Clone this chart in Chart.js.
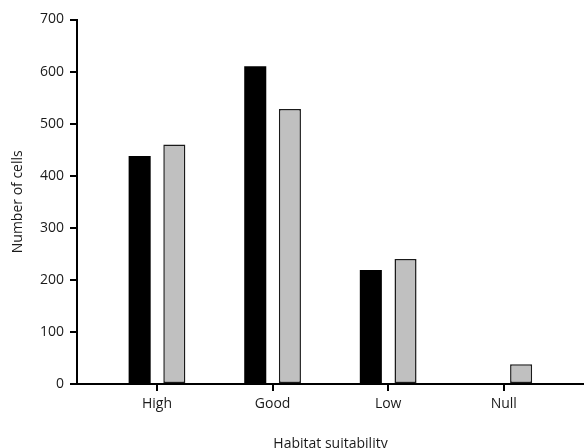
<!DOCTYPE html>
<html>
<head>
<meta charset="utf-8">
<script src="https://cdn.jsdelivr.net/npm/chart.js@4/dist/chart.umd.min.js"></script>
<style>
  html, body { margin: 0; padding: 0; background: #fff; }
  #wrap { width: 584px; height: 448px; }
</style>
</head>
<body>
<div id="wrap"><canvas id="myChart" width="584" height="448"></canvas></div>
<script>
// data
var categories = ["High", "Good", "Low", "Null"];
var blackValues = [438, 610, 219, 0];
var grayValues = [460, 528, 240, 38];
var yTickValues = [0, 100, 200, 300, 400, 500, 600, 700];

function toPoints(values) {
    var pts = [];
    for (var i = 0; i < values.length; i++) {
        pts.push({ x: i, y: values[i] });
    }
    return pts;
}

var font = { family: "'Open Sans', sans-serif", size: 14 };

var ctx = document.getElementById("myChart");
var mychart = new Chart(ctx, {
    type: 'bar',
    data: {
        datasets: [
            {
                data: toPoints(blackValues),
                backgroundColor: "#000000",
                borderWidth: 0,
                categoryPercentage: 0.6,
                barPercentage: 0.636
            },
            {
                data: toPoints(grayValues),
                backgroundColor: "#c0c0c0",
                borderColor: "#1a1a1a",
                borderWidth: 1.5,
                borderSkipped: false,
                categoryPercentage: 0.6,
                barPercentage: 0.636
            }
        ]
    },
    options: {
        responsive: false,
        animation: false,
        devicePixelRatio: 1,
        layout: { padding: { top: 19.5, right: 0, bottom: 0, left: 0 } },
        plugins: {
            legend: { display: false },
            tooltip: { enabled: false }
        },
        scales: {
            x: {
                type: 'linear',
                offset: false,
                min: -0.692,
                max: 3.694,
                afterBuildTicks: function(scale) {
                    scale.ticks = categories.map(function(c, i) { return { value: i }; });
                },
                afterFit: function(scale) { scale.height = 64; },
                grid: { display: true, offset: false, drawOnChartArea: false, drawTicks: true, tickLength: 7, color: "#000", lineWidth: 2, tickColor: "#000", tickWidth: 2 },
                border: { display: true, color: "#000", width: 2 },
                ticks: {
                    padding: 5,
                    color: "#1a1a1a",
                    font: font,
                    maxRotation: 0,
                    autoSkip: false,
                    callback: function(value) { return categories[value] || ""; }
                },
                title: {
                    display: true,
                    text: "Habitat suitability",
                    color: "#1a1a1a",
                    font: { family: font.family, size: 14, lineHeight: 1 },
                    padding: { top: 0, bottom: -3 }
                }
            },
            y: {
                min: 0,
                max: 700,
                afterBuildTicks: function(scale) {
                    scale.ticks = yTickValues.map(function(v) { return { value: v }; });
                },
                afterFit: function(scale) { scale.width = 77; },
                grid: { display: true, drawOnChartArea: false, drawTicks: true, tickLength: 7, color: "#000", lineWidth: 2, tickColor: "#000", tickWidth: 2 },
                border: { display: true, color: "#000", width: 2 },
                ticks: { padding: 6, color: "#1a1a1a", font: font },
                title: {
                    display: true,
                    text: "Number of cells",
                    color: "#1a1a1a",
                    font: { family: font.family, size: 14, lineHeight: 1 },
                    padding: { top: 11, bottom: 0 }
                }
            }
        }
    }
});
</script>
</body>
</html>
